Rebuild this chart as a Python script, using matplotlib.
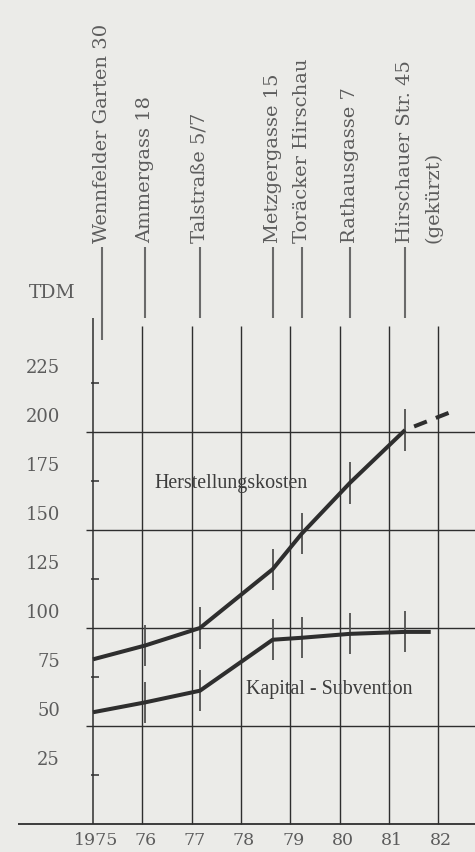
import numpy as np
import matplotlib
matplotlib.use("Agg")
import matplotlib.pyplot as plt


# data (TDM)
projects = ["Wennfelder Garten 30", "Ammergass 18", "Talstraße 5/7",
            "Metzgergasse 15", "Toräcker Hirschau", "Rathausgasse 7",
            "Hirschauer Str. 45"]
project_years = [1975.18, 1976.05, 1977.17, 1978.645, 1979.23, 1980.21, 1981.33]

kosten_years = [1975, 1976.05, 1977.17, 1978.645, 1979.23, 1980.21, 1981.33]
kosten = [84, 91, 100, 130, 148, 174, 201]
prognose_years = [1981.33, 1982.24]
prognose = [201, 210]

subv_years = [1975, 1976.05, 1977.17, 1978.645, 1979.23, 1980.21, 1981.33, 1981.85]
subv = [57, 62, 68, 94, 95, 97, 98, 98]

years = [1975, 1976, 1977, 1978, 1979, 1980, 1981, 1982]
year_labels = ["1975", "76", "77", "78", "79", "80", "81", "82"]
grid_values = [50, 100, 150, 200]
tick_values = [25, 75, 125, 175, 225]
value_labels = ["225", "200", "175", "150", "125", "100", "75", "50", "25"]


# style
BG = "#ebebe8"
INK = "#2e2e2e"
GREY = "#5c5c5c"
SERIF = ["DejaVu Serif"]
TIMES = ["Liberation Serif"]


def main():
    fig = plt.figure(figsize=(4.75, 8.52), dpi=100, facecolor=BG)
    ax = fig.add_axes([0, 0, 1, 1])
    ax.set_facecolor(BG)
    ax.set_xlim(1973.114, 1982.748)
    ax.set_ylim(-14.3, 420.4)
    ax.axis("off")

    # axes and grid
    ax.hlines(0, 1973.47, 1982.748, color=INK, lw=1.3)
    ax.vlines(years[0], 0, 258, color=INK, lw=1.1)
    ax.vlines(years[1:], 0, 254, color=INK, lw=1.0)
    ax.hlines(grid_values, 1974.86, 1982.748, color=INK, lw=1.0)
    ax.hlines(tick_values, 1974.96, 1975.13, color=INK, lw=1.1)

    # value labels (sit a bit above their marks, as in the print)
    for lab in value_labels:
        ax.text(1974.33, int(lab) + 7.5, lab, ha="right", va="center",
                fontsize=13, color=GREY, family=SERIF)
    ax.text(1974.17, 271, "TDM", ha="center", va="center",
            fontsize=13.5, color=GREY, family=SERIF)

    # year labels
    for yr, lab in zip(years, year_labels):
        ax.text(yr + 0.06, -8.2, lab, ha="center", va="center",
                fontsize=12.5, color=GREY, family=SERIF)

    # project markers above the grid
    for i, (name, px) in enumerate(zip(projects, project_years)):
        bottom = 247 if i == 0 else 258
        ax.vlines(px, bottom, 294.4, color="#6a6a6a", lw=1.5)
        ax.text(px, 296.5, name, rotation=90, ha="center", va="bottom",
                fontsize=14, color=GREY, family=SERIF)
    ax.text(1981.33 + 0.57, 296.5, "(gekürzt)", rotation=90, ha="center",
            va="bottom", fontsize=14, color=GREY, family=SERIF)

    # short marks where each project crosses the curves
    for px in project_years[1:]:
        for xs, ys in ((kosten_years, kosten), (subv_years, subv)):
            v = np.interp(px, xs, ys)
            ax.vlines(px, v - 10.5, v + 10.5, color="#505050", lw=1.3)

    # curves
    ax.plot(kosten_years, kosten, color=INK, lw=2.9, solid_capstyle="butt",
            solid_joinstyle="round")
    ax.plot(prognose_years, prognose, color=INK, lw=2.9,
            linestyle=(3.4, (3.4, 2.4)), dash_capstyle="butt")
    ax.plot(subv_years, subv, color=INK, lw=2.9, solid_capstyle="butt",
            solid_joinstyle="round")

    ax.text(1976.24, 173.5, "Herstellungskosten", ha="left", va="center",
            fontsize=14.4, color="#3c3c3c", family=TIMES)
    ax.text(1978.10, 68.4, "Kapital - Subvention", ha="left", va="center",
            fontsize=14.4, color="#3c3c3c", family=TIMES)

    fig.savefig("out.png", dpi=100, facecolor=BG)


if __name__ == "__main__":
    main()
